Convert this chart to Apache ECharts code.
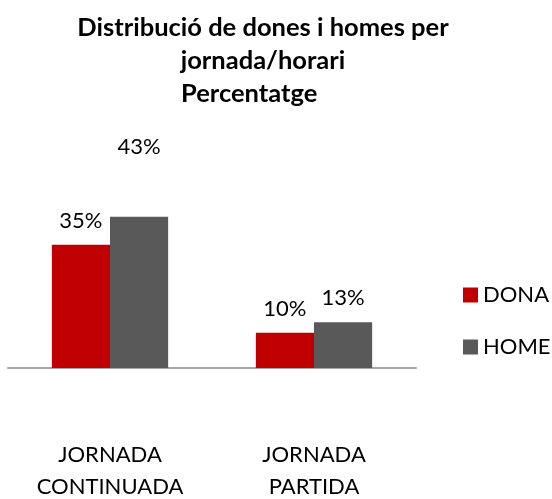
<!DOCTYPE html>
<html>
<head>
<meta charset="utf-8">
<script src="https://cdn.jsdelivr.net/npm/echarts@6/dist/echarts.min.js"></script>
<style>html,body{margin:0;padding:0;background:#fff;}#c{width:552px;height:499px;}</style>
</head>
<body>
<div id="c"></div>
<script>
const categories = ['JORNADA\nCONTINUADA', 'JORNADA\nPARTIDA'];
const seriesNames = ['DONA', 'HOME'];
const dona = [35, 10];
const home = [43, 13];
const colors = ['#C00000', '#595959'];
const FONT = 'Lato';

const chart = echarts.init(document.getElementById('c'));
chart.setOption({
  animation: false,
  textStyle: { fontFamily: FONT },
  title: [
    { text: 'Distribució de dones i homes per\njornada/horari', left: 258, top: 6, textAlign: 'center',
      textStyle: { fontFamily: FONT, fontWeight: 'bold', fontSize: 25.5, lineHeight: 33, color: '#000' } },
    { text: 'Percentatge', left: 176, top: 72,
      textStyle: { fontFamily: FONT, fontWeight: 'bold', fontSize: 25.5, lineHeight: 33, color: '#000' } }
  ],
  legend: {
    orient: 'vertical', left: 458, top: 279, itemWidth: 15, itemHeight: 15, itemGap: 30,
    icon: 'rect',
    textStyle: { fontFamily: FONT, fontSize: 22, color: '#000', padding: [0,0,0,0] },
    data: seriesNames
  },
  grid: { left: 8, right: 136, top: 192, bottom: 131, containLabel: false, outerBoundsMode: 'none' },
  xAxis: {
    type: 'category', data: categories,
    axisLine: { lineStyle: { color: '#A6A6A6', width: 2 } },
    axisTick: { show: false },
    axisLabel: { fontFamily: FONT, fontSize: 22, lineHeight: 32, color: '#000', margin: 71 }
  },
  yAxis: { type: 'value', min: 0, max: 50, show: false, splitLine: { show: false } },
  series: [
    { name: seriesNames[0], type: 'bar', data: dona, barGap: '0%', barCategoryGap: '43%',
      itemStyle: { color: colors[0] },
      label: { show: true, position: 'top', distance: 13, formatter: '{c}%', fontFamily: FONT, fontSize: 22, color: '#000' } },
    { name: seriesNames[1], type: 'bar', barGap: '0%', barCategoryGap: '43%',
      data: home.map((v, i) => i === 0 ? { value: v, label: { offset: [0, -46] } } : v),
      itemStyle: { color: colors[1] },
      label: { show: true, position: 'top', distance: 13, formatter: '{c}%', fontFamily: FONT, fontSize: 22, color: '#000' } }
  ]
});
</script>
</body>
</html>
